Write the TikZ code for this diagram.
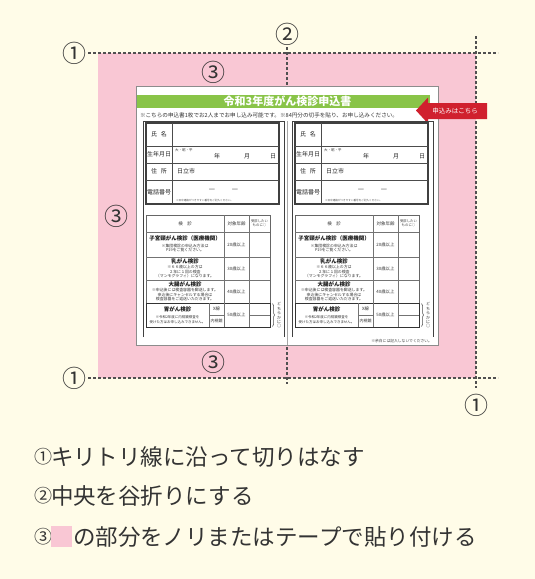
\documentclass[tikz,border=0pt]{standalone}
\usepackage{fontspec}
\setmainfont{Noto Sans CJK JP}
\usetikzlibrary{decorations.pathreplacing}
\definecolor{cream}{RGB}{255,252,232}
\definecolor{pinkz}{RGB}{249,199,212}
\definecolor{greenz}{RGB}{137,196,72}
\definecolor{redz}{RGB}{208,32,46}
\definecolor{inkz}{RGB}{51,51,51}
\definecolor{linez}{RGB}{80,80,80}
\newcommand\fsz[2]{\fontsize{#1pt}{#2pt}\selectfont}
\tikzset{
  base/.style={inner sep=0pt, outer sep=0pt, text=inkz},
  big/.style={base, font=\fsz{22.5}{24}},
  circnum/.style={base, font=\fsz{24}{26}},
  cutline/.style={draw=linez, line width=1.1pt, dash pattern=on 2.7pt off 2.3pt},
  frm/.style={draw=black!75, line width=0.7pt},
  ptbl/.style={draw=black!75, line width=1.1pt},
  pin/.style={draw=black!70, line width=0.8pt},
  etbl/.style={draw=black!60, line width=0.6pt},
  ein/.style={draw=black!55, line width=0.5pt},
  ethick/.style={draw=black!80, line width=0.9pt},
  brc/.style={draw=black!70, line width=0.5pt, decorate, decoration={brace, amplitude=2pt}},
  lab/.style={base, text=black!85, font=\fsz{6}{7}},
  dashglyph/.style={base, text=black!85, font=\fsz{7}{8}},
  micro/.style={base, text=black!80, font=\fsz{3.5}{4}},
  nano/.style={base, text=black!70, font=\fsz{2.6}{3}},
  hd/.style={base, text=black!80, font=\fsz{4.5}{5}},
  hdt/.style={base, text=black!80, font=\fsz{3.4}{3.9}, align=center},
  exname/.style={base, text=black!90, font=\bfseries\fsz{5.5}{6}},
  exnote/.style={base, text=black!80, font=\fsz{3.9}{4.8}, align=center},
  age/.style={base, text=black!80, font=\fsz{4.4}{5}},
  vt/.style={base, text=black!80, font=\fsz{4}{4.4}, align=center},
  inum/.style={base, font=\fsz{18}{19}},
}
\newcommand\formblk[2]{%
\begin{scope}[shift={(#1,0)}]
  \draw[frm] (0,337) -- (0,121) -- (141,121) -- (141,337);
  % personal data table
  \draw[ptbl] (3,123) rectangle (136,204);
  \draw[pin] (29,123) -- (29,204) (3,146) -- (136,146) (3,163) -- (136,163) (3,180) -- (136,180);
  \node[lab] (#2-name) at (16,134.5) {氏\hspace{0.6em}名};
  \node[lab] (#2-birth) at (16,154.5) {生年月日};
  \node[lab] (#2-addr) at (16,171.5) {住\hspace{0.6em}所};
  \node[lab] (#2-tel) at (16,192) {電話番号};
  \node[micro, anchor=west] (#2-era) at (32,150) {大・昭・平};
  \node[lab] (#2-y) at (74,156) {年};
  \node[lab] (#2-m) at (104,156) {月};
  \node[lab] (#2-d) at (130,156) {日};
  \node[lab, anchor=west] (#2-city) at (34,171.5) {日立市};
  \node[dashglyph] (#2-da) at (69,190) {—};
  \node[dashglyph] (#2-db) at (92,190) {—};
  \node[nano, anchor=west] (#2-telnote) at (33,201) {※日中連絡がつきやすい番号をご記入ください。};
  % exam table
  \draw[etbl] (3,215) rectangle (127,303);
  \draw[ein] (81,215) -- (81,303) (106,215) -- (106,303)
             (3,232) -- (127,232) (3,257) -- (127,257) (3,280) -- (127,280);
  \draw[ethick] (3,303) rectangle (127,327);
  \draw[ein] (66,303) -- (66,327) (81,303) -- (81,327) (106,303) -- (106,327)
             (66,315) -- (81,315) (106,315) -- (127,315);
  \node[hd] (#2-h1) at (42,223.5) {検\hspace{1em}診};
  \node[hd] (#2-h2) at (93.5,223.5) {対象年齢};
  \node[hdt] (#2-h3) at (116.5,223.5) {受診したい\\ものに○};
  \node[exname] (#2-e1) at (42,238.5) {子宮頸がん検診（医療機関）};
  \node[exnote] (#2-n1) at (42,248) {※集団検診の申込み方法は\\P19をご覧ください。};
  \node[age] (#2-a1) at (93.5,244.5) {20歳以上};
  \node[exname] (#2-e2) at (42,261.8) {乳がん検診};
  \node[exnote] (#2-n2) at (42,271.6) {※６６歳以上の方は\\２年に１回の検査\\（マンモグラフィ）になります。};
  \node[age] (#2-a2) at (93.5,268.5) {30歳以上};
  \node[exname] (#2-e3) at (42,284.8) {大腸がん検診};
  \node[exnote] (#2-n3) at (42,294.6) {※申込後には検査容器を郵送します。\\申込後にキャンセルする場合は\\検査容器をご返送いただきます。};
  \node[age] (#2-a3) at (93.5,291.5) {40歳以上};
  \node[exname] (#2-e4) at (34.5,309.5) {胃がん検診};
  \node[exnote, font=\fsz{3.5}{4.6}] (#2-n4) at (34.5,319.5) {※令和2年度に内視鏡検査を\\受けた方はお申し込みできません。};
  \node[age] (#2-x1) at (73.5,309) {X線};
  \node[age, font=\fsz{4}{4.5}] (#2-x2) at (73.5,321) {内視鏡};
  \node[age] (#2-a4) at (93.5,315) {50歳以上};
  \draw[brc] (129.5,303.5) -- (129.5,326.5);
  \node[vt] (#2-either) at (136,315.5) {ど\\ち\\ら\\か\\に\\○};
\end{scope}}
\begin{document}
\begin{tikzpicture}[x=1pt, y=-1pt]
  \useasboundingbox (0,0) rectangle (535,579);
  \fill[cream] (0,0) rectangle (535,579);
  % pink paste area
  \fill[pinkz] (98,53) rectangle (476,378);
  % circled markers
  \node[circnum] (c1tl) at (74,53) {①};
  \node[circnum] (c2) at (287,34) {②};
  \node[circnum] (c1bl) at (74,378) {①};
  \node[circnum] (c1br) at (476,405) {①};
  \node[circnum] (c3t) at (213,72) {③};
  \node[circnum] (c3l) at (116,216) {③};
  \node[circnum] (c3b) at (213,362) {③};
  % cut and fold lines
  \coordinate (tlA) at (88,53);   \coordinate (tlB) at (498,53);
  \coordinate (blA) at (88,378);  \coordinate (blB) at (498,378);
  \coordinate (vcA) at (287,47);  \coordinate (vcB) at (287,384);
  \coordinate (vrA) at (476,36);  \coordinate (vrB) at (476,388);
  \draw[cutline] (tlA) -- (tlB);
  \draw[cutline] (blA) -- (blB);
  \draw[cutline] (vcA) -- (vcB);
  \draw[cutline] (vrA) -- (vrB);
  % paper sheet
  \draw[draw=black!45, fill=white, line width=0.6pt] (136,86) rectangle (438,345);
  \draw[draw=black!35, line width=0.4pt] (287,121) -- (287,345);
  \fill[greenz] (137,95) rectangle (430,108);
  \node[base, text=white, font=\bfseries\fsz{11}{12}] (title) at (287.5,101.5) {令和3年度がん検診申込書};
  \node[base, text=black!80, font=\fsz{5.6}{6}, anchor=west] (topnote) at (140,115)
    {※こちらの申込書1枚でお2人までお申し込み可能です。※84円分の切手を貼り、お申し込みください。};
  % red tab
  \fill[redz] (416,110.5) -- (428,97.5) -- (428,103) -- (487,103) -- (487,119) -- (428,119) -- (428,123.5) -- cycle;
  \node[base, text=white, font=\fsz{6.5}{7}] (tab) at (455,111) {申込みはこちら};
  % two forms
  \formblk{143}{L}
  \formblk{292}{R}
  \node[base, text=black!75, font=\fsz{3.8}{4.2}, anchor=east] (margin) at (432,341) {※余白には記入しないでください。};
  % instructions
  \node[inum] (i1n) at (43.5,457) {①};
  \node[big, anchor=west] (i1) at (51,457) {キリトリ線に沿って切りはなす};
  \node[inum] (i2n) at (43.5,496) {②};
  \node[big, anchor=west] (i2) at (51,496) {中央を谷折りにする};
  \node[inum] (i3n) at (43.5,537) {③};
  \fill[pinkz] (51,525.5) rectangle (72,547);
  \node[big, anchor=west] (i3) at (73,537) {の部分をノリまたはテープで貼り付ける};
\end{tikzpicture}
\end{document}
